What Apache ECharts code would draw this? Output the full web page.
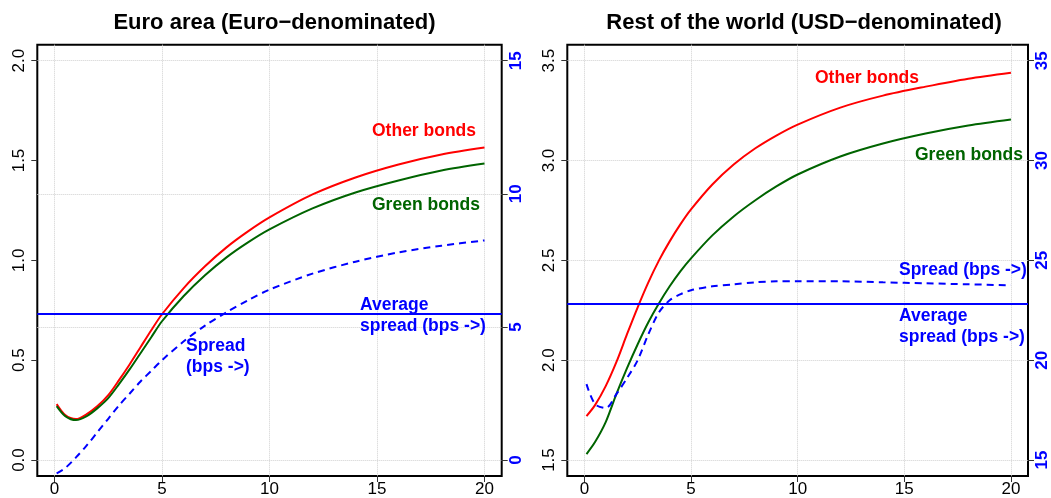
<!DOCTYPE html>
<html>
<head>
<meta charset="utf-8">
<script src="https://cdn.jsdelivr.net/npm/echarts@6/dist/echarts.min.js"></script>
<style>html,body{margin:0;padding:0;background:#fff;}#c{width:1051px;height:498px;}</style>
</head>
<body>
<div id="c"></div>
<script>
// ---- data ----
const maturities = [0.1, 0.5, 1, 1.5, 2, 2.5, 3, 3.5, 4, 4.5, 5, 6, 7, 8, 9, 10, 12, 14, 16, 18, 20];
// Euro area (Euro-denominated), yields in %
const otherEA  = [0.28, 0.225, 0.205, 0.23, 0.27, 0.325, 0.40, 0.48, 0.565, 0.65, 0.73, 0.86, 0.97, 1.065, 1.145, 1.215, 1.33, 1.415, 1.48, 1.53, 1.565];
const greenEA  = [0.27, 0.22, 0.20, 0.22, 0.26, 0.31, 0.38, 0.455, 0.535, 0.615, 0.695, 0.82, 0.925, 1.015, 1.09, 1.155, 1.26, 1.34, 1.40, 1.45, 1.485];
const spreadEA = [-0.5, -0.3, 0.1, 0.55, 1.05, 1.55, 2.05, 2.5, 2.95, 3.35, 3.75, 4.45, 5.05, 5.55, 6.0, 6.4, 7.0, 7.45, 7.8, 8.05, 8.25]; // bps
const avgSpreadEA = 5.49;
// Rest of the world (USD-denominated)
const otherRW  = [1.72, 1.775, 1.87, 1.99, 2.13, 2.265, 2.39, 2.50, 2.595, 2.68, 2.755, 2.88, 2.98, 3.06, 3.125, 3.18, 3.265, 3.325, 3.37, 3.41, 3.44];
const greenRW  = [1.53, 1.59, 1.69, 1.83, 1.96, 2.08, 2.19, 2.285, 2.37, 2.445, 2.51, 2.625, 2.72, 2.80, 2.87, 2.93, 3.02, 3.085, 3.135, 3.175, 3.205];
const spreadRW = [18.8, 17.8, 17.6, 18.3, 19.1, 20.0, 21.3, 22.4, 23.0, 23.3, 23.5, 23.7, 23.8, 23.9, 23.95, 23.95, 23.95, 23.9, 23.85, 23.8, 23.75]; // bps
const avgSpreadRW = 22.83;
// ticks
const xTicks = [0, 5, 10, 15, 20];
const yTicksEA = [0, 0.5, 1, 1.5, 2];
const yTicksEAbps = [0, 5, 10, 15];
const yTicksRW = [1.5, 2, 2.5, 3, 3.5];
const yTicksRWbps = [15, 20, 25, 30, 35];
const titles = ['Euro area (Euro\u2212denominated)', 'Rest of the world (USD\u2212denominated)'];

// ---- chart ----
const FONT = '"Liberation Sans", Arial, sans-serif';
const RED = '#ff0000', GREEN = '#006400', BLUE = '#0000ff';
const pair = (xs, ys) => xs.map((x, i) => [x, ys[i]]);

function xAxisFor(g) {
  return {
    type: 'value', gridIndex: g, min: -0.8, max: 20.8, position: 'bottom',
    axisLine: { show: false, onZero: false },
    axisTick: { show: true, inside: false, customValues: xTicks, length: 6, lineStyle: { color: '#333', width: 1 } },
    axisLabel: { customValues: xTicks, fontSize: 17, color: '#000', fontFamily: FONT, margin: 5 },
    splitLine: { show: true, lineStyle: { color: '#d0d0d0', type: 'dotted', width: 1 } }
  };
}
function yLeft(g, min, max, ticks) {
  return {
    type: 'value', gridIndex: g, position: 'left', min: min, max: max,
    axisLine: { show: false, onZero: false },
    axisTick: { show: true, inside: false, customValues: ticks, length: 6, lineStyle: { color: '#333', width: 1 } },
    axisLabel: { customValues: ticks, rotate: 90, fontSize: 17, color: '#000', fontFamily: FONT, margin: 9,
                 formatter: v => Number(v).toFixed(1) },
    splitLine: { show: false }
  };
}
function yRight(g, min, max, ticks) {
  return {
    type: 'value', gridIndex: g, position: 'right', min: min, max: max,
    axisLine: { show: false, onZero: false },
    axisTick: { show: true, inside: false, customValues: ticks, length: 6, lineStyle: { color: '#333', width: 1 } },
    axisLabel: { customValues: ticks, rotate: 90, fontSize: 17, fontWeight: 'bold', color: BLUE, fontFamily: FONT, margin: 6,
                 formatter: v => String(v) },
    splitLine: { show: true, lineStyle: { color: '#d0d0d0', type: 'dotted', width: 1 } }
  };
}
function lineSeries(name, xi, yi, data, color, dashed) {
  return {
    name: name, type: 'line', xAxisIndex: xi, yAxisIndex: yi, data: data,
    smooth: 0.3, showSymbol: false, symbol: 'none', silent: true, z: 3,
    lineStyle: { color: color, width: 2, type: dashed ? [7, 5] : 'solid' }
  };
}
function avgLine(value) {
  return {
    symbol: 'none', silent: true,
    label: { show: false },
    lineStyle: { color: BLUE, width: 2, type: 'solid' },
    data: [{ yAxis: value }]
  };
}

const chart = echarts.init(document.getElementById('c'), null, { renderer: 'canvas' });
const txt = (t, x, y, color) => ({
  type: 'text', x: x, y: y, silent: true, z: 10,
  style: { text: t, fill: color, font: 'bold 17.5px ' + FONT, textAlign: 'left', textVerticalAlign: 'middle', lineHeight: 21 }
});

const sEA = lineSeries('Spread EA', 0, 1, pair(maturities, spreadEA), BLUE, true);
sEA.markLine = avgLine(avgSpreadEA);
const sRW = lineSeries('Spread RW', 1, 3, pair(maturities, spreadRW), BLUE, true);
sRW.markLine = avgLine(avgSpreadRW);

chart.setOption({
  animation: false,
  backgroundColor: '#fff',
  title: [
    { text: titles[0], left: 269.5, textAlign: 'center', top: 7,
      textStyle: { fontSize: 22, fontWeight: 'bold', color: '#000', fontFamily: FONT } },
    { text: titles[1], left: 799, textAlign: 'center', top: 7,
      textStyle: { fontSize: 22, fontWeight: 'bold', color: '#000', fontFamily: FONT } }
  ],
  grid: [
    { left: 37.3, top: 44.7, width: 464.4, height: 432, show: true, borderColor: '#000', borderWidth: 2, backgroundColor: 'transparent' },
    { left: 567.3, top: 44.7, width: 463.4, height: 432, show: true, borderColor: '#000', borderWidth: 2, backgroundColor: 'transparent' }
  ],
  xAxis: [xAxisFor(0), xAxisFor(1)],
  yAxis: [
    yLeft(0, -0.08, 2.08, yTicksEA),
    yRight(0, -0.6, 15.6, yTicksEAbps),
    yLeft(1, 1.42, 3.58, yTicksRW),
    yRight(1, 14.2, 35.8, yTicksRWbps)
  ],
  series: [
    lineSeries('Other bonds EA', 0, 0, pair(maturities, otherEA), RED, false),
    lineSeries('Green bonds EA', 0, 0, pair(maturities, greenEA), GREEN, false),
    sEA,
    lineSeries('Other bonds RW', 1, 2, pair(maturities, otherRW), RED, false),
    lineSeries('Green bonds RW', 1, 2, pair(maturities, greenRW), GREEN, false),
    sRW
  ],
  graphic: [
    txt('Other bonds', 372, 131, RED),
    txt('Green bonds', 372, 205, GREEN),
    txt('Average\nspread (bps ->)', 360, 315.5, BLUE),
    txt('Spread\n(bps ->)', 186, 357, BLUE),
    txt('Other bonds', 815, 78, RED),
    txt('Green bonds', 915, 155, GREEN),
    txt('Spread (bps ->)', 899, 270, BLUE),
    txt('Average\nspread (bps ->)', 899, 326.5, BLUE)
  ]
});
</script>
</body>
</html>
